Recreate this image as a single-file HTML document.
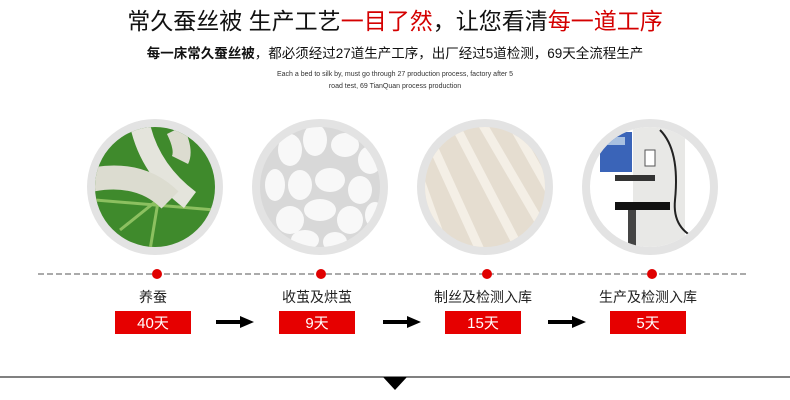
<!DOCTYPE html>
<html><head><meta charset="utf-8"><style>
html,body{margin:0;padding:0;background:#fff;width:790px;height:400px;overflow:hidden}
svg{display:block}
</style></head><body>
<svg width="790" height="400" xmlns="http://www.w3.org/2000/svg" font-family="'Liberation Sans','Noto Sans CJK SC',sans-serif">
<defs>
<clipPath id="c1"><circle cx="155" cy="187" r="60"/></clipPath>
<clipPath id="c2"><circle cx="320" cy="187" r="60"/></clipPath>
<clipPath id="c3"><circle cx="485" cy="187" r="60"/></clipPath>
<clipPath id="c4"><circle cx="650" cy="187" r="60"/></clipPath>
</defs>
<text x="395" y="29" text-anchor="middle" font-size="23" fill="#111">常久蚕丝被  生产工艺<tspan fill="#d40000">一目了然</tspan>，让您看清<tspan fill="#d40000">每一道工序</tspan></text>
<text x="395" y="58" text-anchor="middle" font-size="13.5" fill="#111"><tspan font-weight="bold">每一床常久蚕丝被</tspan>，都必须经过27道生产工序，出厂经过5道检测，69天全流程生产</text>
<text x="395" y="76" text-anchor="middle" font-size="7" fill="#333">Each a bed to silk by, must go through 27 production process, factory after 5</text>
<text x="395" y="88" text-anchor="middle" font-size="7" fill="#333">road test, 69 TianQuan process production</text>

<g fill="#e3e3e3">
<circle cx="155" cy="187" r="68"/><circle cx="320" cy="187" r="68"/><circle cx="485" cy="187" r="68"/><circle cx="650" cy="187" r="68"/>
</g>
<g clip-path="url(#c1)">
<rect x="90" y="120" width="130" height="130" fill="#3f8a2c"/>
<path d="M95 200 L215 210 M120 230 L170 190 M150 250 L160 190" stroke="#8cc060" stroke-width="3"/>
<path d="M140 125 Q150 170 190 200" stroke="#e4e4dc" stroke-width="20" fill="none"/>
<path d="M90 180 Q140 170 170 200" stroke="#dcdcd0" stroke-width="24" fill="none"/>
<path d="M175 130 Q185 150 180 160" stroke="#dcdcd0" stroke-width="18" fill="none"/>
</g>
<g clip-path="url(#c2)">
<rect x="255" y="120" width="130" height="130" fill="#d8d8d8"/>
<g fill="#f8f8f8">
<ellipse cx="290" cy="150" rx="12" ry="16"/><ellipse cx="315" cy="140" rx="12" ry="16"/><ellipse cx="345" cy="145" rx="14" ry="12"/><ellipse cx="370" cy="160" rx="12" ry="14"/>
<ellipse cx="275" cy="185" rx="10" ry="16"/><ellipse cx="300" cy="185" rx="12" ry="15"/><ellipse cx="330" cy="180" rx="15" ry="12"/><ellipse cx="360" cy="190" rx="12" ry="14"/>
<ellipse cx="290" cy="220" rx="14" ry="14"/><ellipse cx="320" cy="210" rx="16" ry="11"/><ellipse cx="350" cy="220" rx="13" ry="14"/><ellipse cx="375" cy="215" rx="10" ry="13"/>
<ellipse cx="305" cy="240" rx="14" ry="10"/><ellipse cx="335" cy="242" rx="12" ry="10"/>
</g>
</g>
<g clip-path="url(#c3)">
<rect x="420" y="120" width="130" height="130" fill="#e5ddd0"/>
<g stroke="#f4efe6" stroke-width="9" fill="none">
<path d="M430 140 L480 250"/><path d="M455 125 L520 250"/><path d="M480 120 L550 240"/><path d="M510 120 L555 200"/><path d="M420 180 L445 250"/>
</g>
</g>
<g clip-path="url(#c4)">
<rect x="585" y="120" width="130" height="130" fill="#fff"/>
<rect x="633" y="127" width="52" height="125" fill="#e8e8e6"/>
<rect x="600" y="132" width="32" height="40" fill="#3a64b8"/>
<rect x="605" y="137" width="20" height="8" fill="#a8c0e0"/>
<rect x="645" y="150" width="10" height="16" fill="#fff" stroke="#555"/>
<rect x="615" y="175" width="40" height="6" fill="#333"/>
<rect x="615" y="202" width="55" height="8" fill="#111"/>
<rect x="628" y="210" width="8" height="45" fill="#444"/>
<path d="M660 130 Q680 150 675 200 Q672 230 700 240" stroke="#222" stroke-width="2" fill="none"/>
</g>

<line x1="38" y1="274" x2="748" y2="274" stroke="#555" stroke-dasharray="6,3" stroke-width="1"/>
<g fill="#e00000"><circle cx="157" cy="274" r="5"/><circle cx="321" cy="274" r="5"/><circle cx="487" cy="274" r="5"/><circle cx="652" cy="274" r="5"/></g>

<g font-size="14" fill="#222" text-anchor="middle">
<text x="153" y="302">养蚕</text><text x="317" y="302">收茧及烘茧</text><text x="483" y="302">制丝及检测入库</text><text x="648" y="302">生产及检测入库</text>
</g>
<g fill="#e60000">
<rect x="115" y="311" width="76" height="23"/><rect x="279" y="311" width="76" height="23"/><rect x="445" y="311" width="76" height="23"/><rect x="610" y="311" width="76" height="23"/>
</g>
<g font-size="15" fill="#fff" text-anchor="middle">
<text x="153" y="328">40天</text><text x="317" y="328">9天</text><text x="483" y="328">15天</text><text x="648" y="328">5天</text>
</g>
<g fill="#000">
<path d="M216 320 H240 V316 L254 322 L240 328 V324 H216 Z"/>
<path d="M383 320 H407 V316 L421 322 L407 328 V324 H383 Z"/>
<path d="M548 320 H572 V316 L586 322 L572 328 V324 H548 Z"/>
</g>
<line x1="0" y1="377" x2="790" y2="377" stroke="#000" stroke-width="1"/>
<path d="M383 377 L407 377 L395 390 Z" fill="#000"/>
</svg>
</body></html>
